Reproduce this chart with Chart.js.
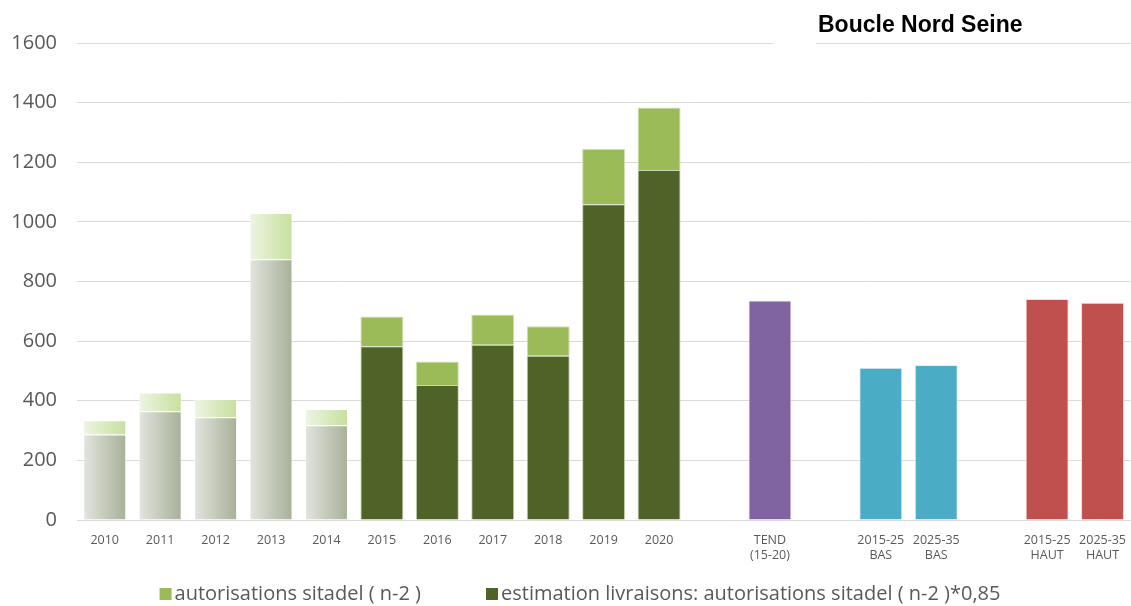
<!DOCTYPE html>
<html>
<head>
<meta charset="utf-8">
<script src="https://cdn.jsdelivr.net/npm/chart.js@4/dist/chart.umd.min.js"></script>
<style>
  body { margin: 0; background: #fff; }
</style>
</head>
<body>
<canvas id="logementsChart" width="1131" height="606"></canvas>
<script>
// Categories (blank entries leave a gap between groups)
const categories = [
  "2010", "2011", "2012", "2013", "2014", "2015", "2016", "2017", "2018", "2019", "2020",
  "", ["TEND", "(15-20)"], "", ["2015-25", "BAS"], ["2025-35", "BAS"], "", ["2015-25", "HAUT"], ["2025-35", "HAUT"]
];

// Sitadel authorisations (n-2) and estimated deliveries (x0,85)
const autorisations = [335, 428, 406, 1030, 372, 683, 532, 689, 650, 1245, 1384];
const estimation    = [287, 365, 345, 875, 318, 583, 453, 588, 551, 1059, 1174];

// Scenario averages
const tendance = [null, null, null, null, null, null, null, null, null, null, null, null, 736];
const scenarioBas = [null, null, null, null, null, null, null, null, null, null, null, null, null, null, 511, 520];
const scenarioHaut = [null, null, null, null, null, null, null, null, null, null, null, null, null, null, null, null, null, 741, 729];

const yTicks = [0, 200, 400, 600, 800, 1000, 1200, 1400, 1600];

const legendLabels = [
  "autorisations sitadel ( n-2 )",
  "estimation livraisons: autorisations sitadel ( n-2 )*0,85"
];

// first years are shown faded
const fadedYears = 5;
const BAR_PCT = 0.776;

// top segment of each stacked bar = authorisations beyond the estimate
const surplus = autorisations.map((v, i) => v - estimation[i]);

function fadeGradient(ctx, left, right, solid) {
  const i = ctx.dataIndex;
  if (i === undefined || i >= fadedYears) return solid;
  const chart = ctx.chart;
  const x = chart.scales.x;
  if (!chart.chartArea || !x || !x.width) return right;
  const cx = x.getPixelForValue(i);
  const half = x.width / categories.length * BAR_PCT / 2;
  const g = chart.ctx.createLinearGradient(cx - half, 0, cx + half, 0);
  g.addColorStop(0, left);
  g.addColorStop(1, right);
  return g;
}

// title drawn top-right
const titlePlugin = {
  id: "titreZone",
  afterDraw(chart) {
    const c = chart.ctx;
    c.save();
    c.fillStyle = "#fff";
    c.fillRect(773, 38, 43, 10);
    c.fillStyle = "#000";
    c.font = "bold 23px 'Liberation Sans', Arial, sans-serif";
    c.textBaseline = "alphabetic";
    c.textAlign = "left";
    c.fillText("Boucle Nord Seine", 818, 32);
    c.restore();
  }
};

// legend for the two sitadel series
const legendPlugin = {
  id: "legendeBas",
  afterDraw(chart) {
    const c = chart.ctx;
    const colors = ["#9bbb59", "#4f6228"];
    c.save();
    c.font = "20px 'Open Sans', sans-serif";
    c.textBaseline = "middle";
    const box = 12, gapBox = 3, gapItem = 65;
    const widths = legendLabels.map(t => c.measureText(t).width);
    const total = widths.reduce((s, w) => s + box + gapBox + w, 0) + gapItem;
    let x = 580 - total / 2;
    const y = 594;
    legendLabels.forEach((t, i) => {
      c.fillStyle = colors[i];
      c.fillRect(x, y - box / 2, box, box);
      c.fillStyle = "#595959";
      c.fillText(t, x + box + gapBox, y);
      x += box + gapBox + widths[i] + gapItem;
    });
    c.restore();
  }
};

const ctx = document.getElementById("logementsChart").getContext("2d");

new Chart(ctx, {
  type: "bar",
  data: {
    labels: categories,
    datasets: [
      {
        label: legendLabels[1],
        data: estimation,
        backgroundColor: c => fadeGradient(c, "#e3e5df", "#a7b098", "#4f6228"),
        borderColor: c => (c.dataIndex < fadedYears ? "rgba(255,255,255,0.5)" : "#c9d5b5"),
        borderWidth: 1,
        stack: "s"
      },
      {
        label: legendLabels[0],
        data: surplus,
        backgroundColor: c => fadeGradient(c, "#eef5e4", "#c6e09c", "#9bbb59"),
        borderColor: c => (c.dataIndex < fadedYears ? "rgba(255,255,255,0.5)" : "#d2e3b5"),
        borderWidth: 1,
        stack: "s"
      },
      {
        label: "TEND",
        data: tendance,
        backgroundColor: "#8064a2",
        borderColor: "#ece6f2",
        borderWidth: 1,
        stack: "s"
      },
      {
        label: "BAS",
        data: scenarioBas,
        backgroundColor: "#4bacc6",
        borderColor: "#e3f2f6",
        borderWidth: 1,
        stack: "s"
      },
      {
        label: "HAUT",
        data: scenarioHaut,
        backgroundColor: "#c0504d",
        borderColor: "#f2dcdb",
        borderWidth: 1,
        stack: "s"
      }
    ]
  },
  options: {
    responsive: false,
    animation: false,
    datasets: {
      bar: { categoryPercentage: 1, barPercentage: BAR_PCT }
    },
    layout: { padding: { top: 43, right: 0, left: 0, bottom: 0 } },
    plugins: {
      legend: { display: false },
      tooltip: { enabled: false }
    },
    scales: {
      x: {
        stacked: true,
        grid: { display: false },
        border: { color: "#d9d9d9" },
        ticks: {
          color: "#595959",
          font: { family: "'Liberation Sans Narrow', 'Open Sans', sans-serif", size: 12.5 },
          maxRotation: 0,
          autoSkip: false,
          padding: 5
        },
        afterFit(scale) { scale.height = 86; }
      },
      y: {
        stacked: true,
        min: 0,
        max: 1600,
        afterBuildTicks(scale) { scale.ticks = yTicks.map(v => ({ value: v })); },
        grid: { color: "#d9d9d9", drawTicks: false },
        border: { display: false },
        ticks: {
          color: "#595959",
          font: { family: "'Open Sans', sans-serif", size: 20 },
          padding: 20,
          callback: v => String(v)
        },
        afterFit(scale) { scale.width = 77; }
      }
    }
  },
  plugins: [titlePlugin, legendPlugin]
});
</script>
</body>
</html>
